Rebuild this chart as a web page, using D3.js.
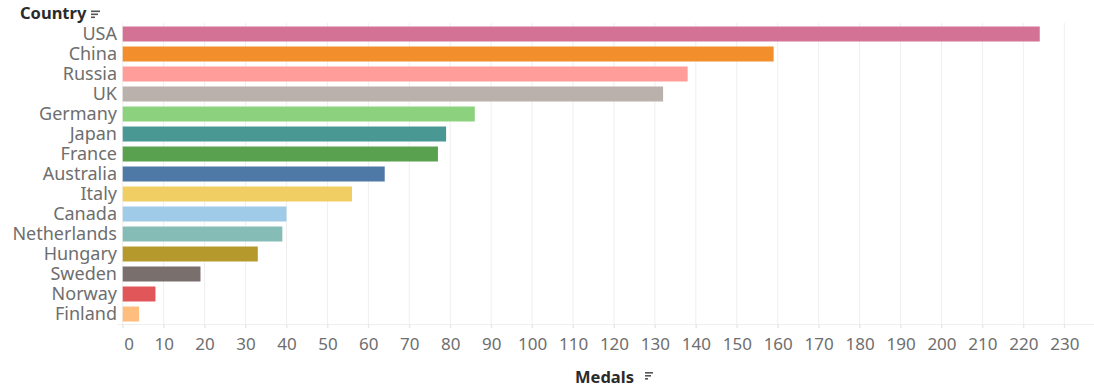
<!DOCTYPE html>
<html>
<head>
<meta charset="utf-8">
<script src="https://cdn.jsdelivr.net/npm/d3@7"></script>
<style>
  body { margin: 0; background: #fff; }
  svg { display: block; }
</style>
</head>
<body>
<div id="chart"></div>
<script>
const countries = ["USA", "China", "Russia", "UK", "Germany", "Japan", "France", "Australia",
    "Italy", "Canada", "Netherlands", "Hungary", "Sweden", "Norway", "Finland"];
const medals = [224, 159, 138, 132, 86, 79, 77, 64, 56, 40, 39, 33, 19, 8, 4];
const colors = ["#D37295", "#F28E2B", "#FF9D9A", "#BAB0AC", "#8CD17D", "#499894", "#59A14F", "#4E79A7",
    "#F1CE63", "#A0CBE8", "#86BCB6", "#B6992D", "#79706E", "#E15759", "#FFBE7D"];
const xTicks = d3.range(0, 231, 10);

const width = 1094, height = 387;
const font = "'Noto Sans', sans-serif";

const svg = d3.select("#chart")
    .append("svg")
    .attr("width", width)
    .attr("height", height);

const x = d3.scaleLinear().domain([0, 230]).range([122.7, 1064.3]);
const y = d3.scaleBand().domain(countries).range([24, 324]).paddingInner(0.25).paddingOuter(0.125);

// gridlines
svg.append("g")
    .selectAll("line")
    .data(xTicks)
    .enter()
    .append("line")
    .attr("x1", d => x(d)).attr("x2", d => x(d))
    .attr("y1", 23).attr("y2", 328)
    .attr("stroke", "#efefef")
    .attr("stroke-width", 1);

svg.append("line")
    .attr("x1", 118).attr("x2", width)
    .attr("y1", 324.5).attr("y2", 324.5)
    .attr("stroke", "#efefef");

// bars
svg.append("g")
    .selectAll("rect")
    .data(countries)
    .enter()
    .append("rect")
    .attr("x", x(0))
    .attr("y", d => y(d))
    .attr("width", (d, i) => x(medals[i]) - x(0))
    .attr("height", y.bandwidth())
    .attr("fill", (d, i) => colors[i]);

// country labels
svg.append("g")
    .selectAll("text")
    .data(countries)
    .enter()
    .append("text")
    .attr("x", 117)
    .attr("y", d => y(d) + y.bandwidth() / 2)
    .attr("dy", "0.36em")
    .attr("text-anchor", "end")
    .style("font-family", font)
    .style("font-size", "18px")
    .style("fill", "#6e6e6e")
    .text(d => d);

// x axis
const xAxis = svg.append("g")
    .attr("transform", "translate(0,324)")
    .call(d3.axisBottom(x).tickValues(xTicks).tickSize(4).tickPadding(10));
xAxis.select(".domain").remove();
xAxis.selectAll(".tick line").attr("stroke", "#e6e6e6");
xAxis.selectAll(".tick text")
    .style("font-family", font)
    .style("font-size", "17px")
    .style("fill", "#6e6e6e");
// first label sits just inside the axis start
xAxis.selectAll(".tick text").filter(d => d === 0).attr("dx", 6);

// sort icon
function sortIcon(g, x0, y0, ws) {
    ws.forEach((w, i) => {
        g.append("rect")
            .attr("x", x0).attr("y", y0 + i * 3)
            .attr("width", w).attr("height", 1.6)
            .attr("fill", "#555");
    });
}

svg.append("text")
    .attr("x", 20).attr("y", 19)
    .style("font-family", font)
    .style("font-size", "16.5px")
    .style("font-weight", "bold")
    .style("fill", "#2b2b2b")
    .text("Country");
sortIcon(svg, 91, 10.5, [9, 7, 4]);

svg.append("text")
    .attr("x", 575).attr("y", 383)
    .style("font-family", font)
    .style("font-size", "16.5px")
    .style("font-weight", "bold")
    .style("fill", "#2b2b2b")
    .text("Medals");
sortIcon(svg, 645, 372, [8, 6, 3]);
</script>
</body>
</html>
